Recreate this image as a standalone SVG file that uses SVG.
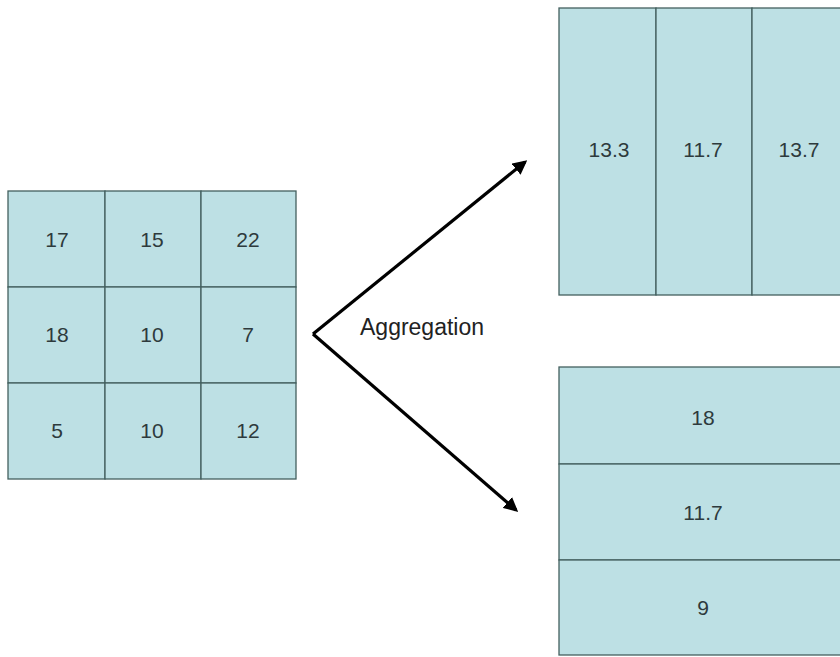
<svg xmlns="http://www.w3.org/2000/svg" width="840" height="657" viewBox="0 0 840 657">
  <style>
    .cell { fill: #bde0e4; stroke: #44605f; stroke-width: 1.3; }
    .num { font-family: "Liberation Sans", Arial, sans-serif; font-size: 21px; fill: #2e3a3c; text-anchor: middle; }
    .lbl { font-family: "Liberation Sans", Arial, sans-serif; font-size: 23px; fill: #222; }
    .arrow { stroke: #000; stroke-width: 3.2; fill: none; }
  </style>
  <defs>
    <marker id="head" viewBox="0 0 10 10" refX="8" refY="5" markerWidth="4.5" markerHeight="4.5" orient="auto" markerUnits="strokeWidth">
      <path d="M0,0 L10,5 L0,10 Z" fill="#000"/>
    </marker>
  </defs>
  <rect width="840" height="657" fill="#fff"/>

  <!-- source grid 3x3 -->
  <g id="source-grid">
    <rect class="cell" x="8" y="191" width="97" height="96"/>
    <rect class="cell" x="105" y="191" width="96" height="96"/>
    <rect class="cell" x="201" y="191" width="95" height="96"/>
    <rect class="cell" x="8" y="287" width="97" height="96"/>
    <rect class="cell" x="105" y="287" width="96" height="96"/>
    <rect class="cell" x="201" y="287" width="95" height="96"/>
    <rect class="cell" x="8" y="383" width="97" height="96"/>
    <rect class="cell" x="105" y="383" width="96" height="96"/>
    <rect class="cell" x="201" y="383" width="95" height="96"/>
    <text class="num" x="57" y="247">17</text>
    <text class="num" x="152" y="247">15</text>
    <text class="num" x="248" y="247">22</text>
    <text class="num" x="57" y="342">18</text>
    <text class="num" x="152" y="342">10</text>
    <text class="num" x="248" y="342">7</text>
    <text class="num" x="57" y="438">5</text>
    <text class="num" x="152" y="438">10</text>
    <text class="num" x="248" y="438">12</text>
  </g>

  <!-- column aggregate -->
  <g id="column-aggregate">
    <rect class="cell" x="559" y="8" width="97" height="287"/>
    <rect class="cell" x="656" y="8" width="96" height="287"/>
    <rect class="cell" x="752" y="8" width="96" height="287"/>
    <text class="num" x="609" y="157">13.3</text>
    <text class="num" x="703" y="157">11.7</text>
    <text class="num" x="799" y="157">13.7</text>
  </g>

  <!-- row aggregate -->
  <g id="row-aggregate">
    <rect class="cell" x="559" y="367" width="289" height="97"/>
    <rect class="cell" x="559" y="464" width="289" height="96"/>
    <rect class="cell" x="559" y="560" width="289" height="95"/>
    <text class="num" x="703" y="425">18</text>
    <text class="num" x="703" y="520">11.7</text>
    <text class="num" x="703" y="615">9</text>
  </g>

  <!-- connectors -->
  <g id="connectors">
    <line class="arrow" x1="313" y1="334" x2="525" y2="162" marker-end="url(#head)"/>
    <line class="arrow" x1="313" y1="334" x2="516" y2="510" marker-end="url(#head)"/>
  </g>

  <g id="label">
    <text class="lbl" x="360" y="335">Aggregation</text>
  </g>
</svg>
